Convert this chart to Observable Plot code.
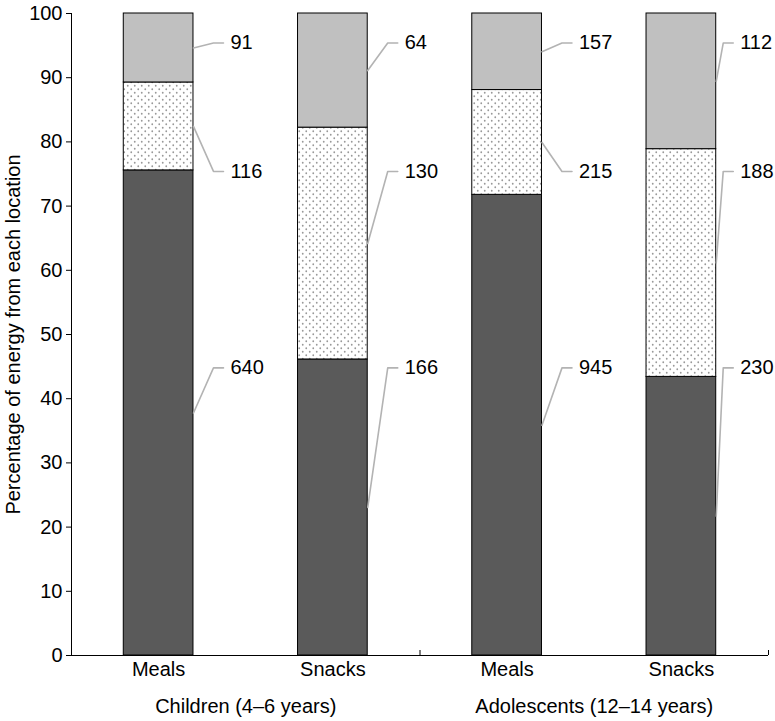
<!DOCTYPE html>
<html><head><meta charset="utf-8">
<script src="https://cdn.jsdelivr.net/npm/d3@7"></script>
<script src="https://cdn.jsdelivr.net/npm/@observablehq/plot@0.6"></script>
<style>body{margin:0;background:#fff}</style>
</head><body><div id="chart"></div>
<script>
// ---- data ----
const groups = ["Children (4–6 years)", "Adolescents (12–14 years)"];
const occasions = ["Meals", "Snacks"];
const locations = ["Location 1", "Location 2", "Location 3"]; // stacked bottom to top
// energy (kcal) per bar: Children Meals, Children Snacks, Adolescents Meals, Adolescents Snacks
const energyLoc1 = [640, 166, 945, 230];
const energyLoc2 = [116, 130, 215, 188];
const energyLoc3 = [91, 64, 157, 112];
const yTicks = [0, 10, 20, 30, 40, 50, 60, 70, 80, 90, 100];
const yTitle = "Percentage of energy from each location";

// ---- layout constants ----
const W = 775, H = 721, ML = 71, MR = 7, MT = 13, MB = 66;
const labelLevel = [44.8, 75.4, 95.4]; // label heights (percent units) per location
const labelGap = [37, 37, 37, 24];     // px from bar edge to label text, per bar
const fills = ["#5a5a5a", "url(#dots)", "#c0c0c0"];
const halfBar = 0.2;
const pxX = 4 / (W - ML - MR);

// ---- table ----
const series = [energyLoc1, energyLoc2, energyLoc3];
const rows = [];
for (let b = 0; b < 4; b++) {
  const total = series.reduce((s, a) => s + a[b], 0);
  let acc = 0;
  series.forEach((arr, li) => {
    const pct = arr[b] / total * 100;
    rows.push({bar: b, loc: li, value: arr[b], y1: acc, y2: acc + pct, mid: acc + pct / 2, labelY: labelLevel[li]});
    acc += pct;
  });
}
const leaders = [];
rows.forEach((r, i) => {
  const right = r.bar + 0.5 + halfBar;
  const g = labelGap[r.bar];
  leaders.push({id: i, x: right, y: r.mid});
  leaders.push({id: i, x: right + (g - 17) * pxX, y: r.labelY});
  leaders.push({id: i, x: right + (g - 7) * pxX, y: r.labelY});
});

const font = "'Liberation Sans', Arial, Helvetica, sans-serif";
const svg = Plot.plot({
  width: W, height: H,
  marginLeft: ML, marginRight: MR, marginTop: MT, marginBottom: MB,
  style: {fontFamily: font, fontSize: "20px", color: "#000", background: "#fff"},
  x: {domain: [0, 4], axis: null},
  y: {domain: [0, 100], axis: null},
  marks: [
    ...locations.map((loc, li) => Plot.rect(rows.filter(r => r.loc === li), {
      x1: r => r.bar + 0.5 - halfBar, x2: r => r.bar + 0.5 + halfBar,
      y1: "y1", y2: "y2", fill: fills[li], stroke: "#000", strokeWidth: 1
    })),
    Plot.line(leaders, {x: "x", y: "y", z: "id", stroke: "#b3b3b3", strokeWidth: 1.6, curve: "linear"}),
    Plot.text(rows, {x: r => r.bar + 0.5 + halfBar + labelGap[r.bar] * pxX, y: "labelY", text: r => String(r.value), textAnchor: "start", fill: "#000", fontSize: 20}),
    Plot.axisY({ticks: yTicks, tickSize: 5, tickPadding: 4, label: null, fontSize: 20}),
    Plot.ruleX([0], {y1: 0, y2: 100, stroke: "#000"}),
    Plot.ruleY([0], {x1: 0, x2: 4, stroke: "#000"}),
    Plot.ruleX([2, 4], {y1: 0, y2: 5 / 6.42, stroke: "#000"}),
    Plot.axisX({ticks: [0.5, 1.5, 2.5, 3.5], tickFormat: t => occasions[Math.floor(t) % 2], tickSize: 0, tickPadding: 6, label: null, fontSize: 20}),
    Plot.text(groups, {x: (d, i) => 1 + 2 * i, y: 0, dy: 51, text: d => d, fill: "#000", fontSize: 20}),
    Plot.text([yTitle], {frameAnchor: "left", dx: -58, rotate: -90, textAnchor: "middle", text: d => d, fill: "#000", fontSize: 20})
  ]
});
const ns = "http://www.w3.org/2000/svg";
const defs = document.createElementNS(ns, "defs");
defs.innerHTML = `<pattern id="dots" width="7" height="7" patternUnits="userSpaceOnUse">
<rect width="7" height="7" fill="#fff"/>
<circle cx="1.75" cy="1.75" r="0.9" fill="#999"/>
<circle cx="5.25" cy="5.25" r="0.9" fill="#999"/></pattern>`;
svg.insertBefore(defs, svg.firstChild);
document.getElementById("chart").appendChild(svg);
</script>
</body></html>
